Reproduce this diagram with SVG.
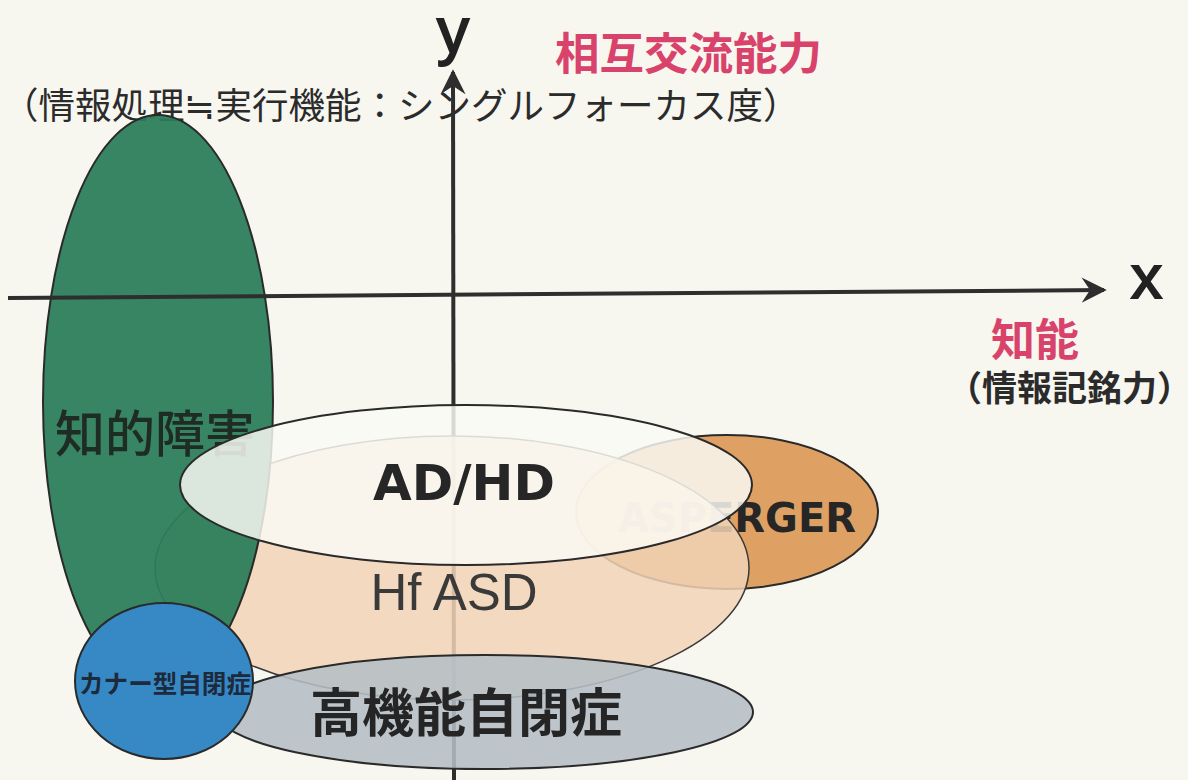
<svg xmlns="http://www.w3.org/2000/svg" width="1188" height="780" viewBox="0 0 1188 780">
<defs>
<style>
.jp{font-family:"Noto Sans CJK JP","Noto Sans",sans-serif;}
.pink{fill:#d9436b;font-weight:bold;}
.dark{fill:#2b2b2b;}
.lat{font-family:"DejaVu Sans","Liberation Sans",sans-serif;font-weight:bold;fill:#262626;}
.axis{stroke:#2e2e2e;stroke-width:4;fill:none;}
.outline{stroke:#2a2a2a;stroke-width:2;}
.axlabel{font-family:"Liberation Sans",sans-serif;fill:#222;stroke:#222;stroke-width:2;}
</style>
<marker id="arr" viewBox="0 0 20 20" refX="16" refY="10" markerWidth="7" markerHeight="7" markerUnits="strokeWidth" orient="auto">
<path d="M0,1 L18,10 L0,19 L6,10 Z" fill="#2e2e2e"/>
</marker>
</defs>
<rect width="1188" height="780" fill="#f7f6ef"/>

<g id="title-y">
<text class="jp pink" x="555" y="70" font-size="44.5">相互交流能力</text>
<text class="jp dark" x="2" y="119" font-size="36.5">（情報処理≒実行機能：シングルフォーカス度）</text>
<text class="axlabel" x="453" y="53" font-size="64" text-anchor="middle">y</text>
</g>

<g id="connectors">
<line class="axis" x1="454" y1="780" x2="453" y2="72" marker-end="url(#arr)"/>
</g>

<g id="asperger">
<ellipse cx="727" cy="512" rx="151" ry="77" fill="#dfa163" class="outline"/>
<text class="lat" x="737" y="532" font-size="40" text-anchor="middle">ASPERGER</text>
</g>

<g id="hfasd">
<ellipse cx="452" cy="568" rx="297" ry="132" fill="#f1d4b6" fill-opacity="0.85" stroke="#3a3a3a" stroke-width="1.5"/>
</g>

<g id="chiteki">
<ellipse cx="158" cy="402" rx="115" ry="287" fill="#2b7d59" fill-opacity="0.94" class="outline"/>
<text class="jp" x="55" y="452" font-size="50" font-weight="500" fill="#1f2b25">知的障害</text>
</g>

<g id="x-axis">
<line class="axis" x1="8" y1="298" x2="1104" y2="290" marker-end="url(#arr)"/>
<text class="axlabel" x="1131" y="298" font-size="62">x</text>
<text class="jp pink" x="991" y="356" font-size="44">知能</text>
<text class="jp dark" x="947" y="401" font-size="35" font-weight="bold">（情報記銘力）</text>
</g>

<g id="adhd">
<ellipse cx="466" cy="485" rx="286" ry="80" fill="#fafaf4" fill-opacity="0.84" class="outline"/>
<text class="lat" x="464" y="500" font-size="50" text-anchor="middle">AD/HD</text>
</g>

<g id="hfasd-label">
<text x="454" y="610" font-size="51" text-anchor="middle" font-family="Liberation Sans, sans-serif" fill="#3a3a3a">Hf ASD</text>
</g>

<g id="koukinou">
<ellipse cx="485" cy="712" rx="268" ry="57" fill="#b5bec6" fill-opacity="0.88" class="outline"/>
<text class="jp" x="310" y="732" font-size="52" font-weight="bold" fill="#252525">高機能自閉症</text>
</g>

<g id="kanner">
<ellipse cx="164" cy="681" rx="89" ry="78" fill="#3789c6" class="outline"/>
<text class="jp" x="165" y="693" font-size="25" font-weight="bold" text-anchor="middle" fill="#1c2a3c" textLength="172" lengthAdjust="spacingAndGlyphs">カナー型自閉症</text>
</g>
</svg>
